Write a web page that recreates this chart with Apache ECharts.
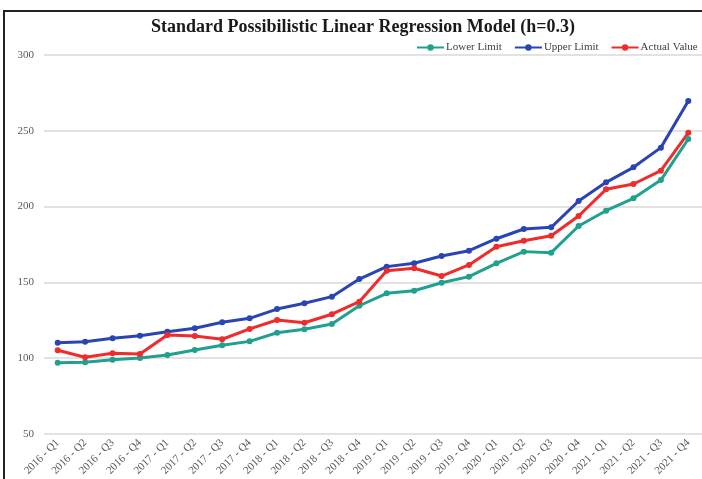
<!DOCTYPE html>
<html>
<head>
<meta charset="utf-8">
<script src="https://cdn.jsdelivr.net/npm/echarts@6/dist/echarts.min.js"></script>
<style>
  html, body { margin: 0; padding: 0; background: #ffffff; }
  #chart { width: 702px; height: 479px; }
</style>
</head>
<body>
<div id="chart"></div>
<script>
// Quarterly periods on the category axis
const quarters = [
  '2016 - Q1', '2016 - Q2', '2016 - Q3', '2016 - Q4',
  '2017 - Q1', '2017 - Q2', '2017 - Q3', '2017 - Q4',
  '2018 - Q1', '2018 - Q2', '2018 - Q3', '2018 - Q4',
  '2019 - Q1', '2019 - Q2', '2019 - Q3', '2019 - Q4',
  '2020 - Q1', '2020 - Q2', '2020 - Q3', '2020 - Q4',
  '2021 - Q1', '2021 - Q2', '2021 - Q3', '2021 - Q4'
];

// Lower bound of the possibilistic estimate
const lowerLimit = [
  97.0, 97.3, 99.0, 100.1, 102.1, 105.4, 108.5, 111.1,
  116.8, 119.1, 122.6, 134.6, 142.8, 144.5, 149.8, 153.8,
  162.6, 170.3, 169.6, 187.2, 197.3, 205.5, 217.5, 244.6
];

// Upper bound of the possibilistic estimate
const upperLimit = [
  110.2, 110.9, 113.1, 114.8, 117.5, 119.7, 123.7, 126.3,
  132.4, 136.2, 140.6, 152.2, 160.4, 162.6, 167.4, 170.9,
  178.8, 185.2, 186.3, 203.7, 216.0, 225.9, 238.9, 269.7
];

// Observed values
const actualValue = [
  105.2, 100.6, 103.2, 102.8, 115.3, 114.6, 112.5, 119.3,
  125.2, 123.4, 129.0, 137.3, 157.7, 159.3, 154.2, 161.5,
  173.5, 177.5, 180.8, 193.8, 211.4, 214.9, 223.7, 248.7
];

// Value axis range
const yMin = 50, yMax = 300, yStep = 50;

const serif = '"Liberation Serif", "Times New Roman", serif';

const chart = echarts.init(document.getElementById('chart'), null, { renderer: 'canvas' });

function lineSeries(name, data, color) {
  return {
    name: name,
    type: 'line',
    data: data,
    symbol: 'circle',
    symbolSize: 6,
    lineStyle: { color: color, width: 3 },
    itemStyle: { color: color },
    z: 3
  };
}

chart.setOption({
  animation: false,
  backgroundColor: '#ffffff',
  title: {
    text: 'Standard Possibilistic Linear Regression Model (h=0.3)',
    left: 146,
    top: 13,
    textStyle: {
      fontFamily: serif,
      fontSize: 18,
      fontWeight: 'bold',
      color: '#1a1a1a'
    }
  },
  legend: {
    left: 416,
    top: 42,
    width: 320,
    padding: 0,
    itemWidth: 27,
    itemHeight: 8,
    itemGap: 12,
    textStyle: { fontFamily: serif, fontSize: 11, color: '#404040', padding: [0, 0, 0, -3] },
    data: ['Lower Limit', 'Upper Limit', 'Actual Value']
  },
  graphic: [{
    type: 'rect',
    shape: { x: 4, y: 11, width: 900, height: 700 },
    style: { fill: null, stroke: '#222222', lineWidth: 2 },
    silent: true,
    z: 10
  }],
  grid: {
    left: 44,
    top: 55,
    width: 667,
    height: 379
  },
  xAxis: {
    type: 'category',
    data: quarters,
    boundaryGap: true,
    axisLine: { show: false },
    axisTick: { show: false },
    axisLabel: {
      rotate: 45,
      interval: 0,
      margin: 7,
      fontFamily: serif,
      fontSize: 11,
      color: '#595959'
    }
  },
  yAxis: {
    type: 'value',
    min: yMin,
    max: yMax,
    interval: yStep,
    axisLine: { show: false },
    axisTick: { show: false },
    axisLabel: {
      margin: 10,
      fontFamily: serif,
      fontSize: 11,
      color: '#595959'
    },
    splitLine: { lineStyle: { color: '#d9d9d9', width: 1.5 } }
  },
  series: [
    lineSeries('Lower Limit', lowerLimit, '#20a08f'),
    lineSeries('Upper Limit', upperLimit, '#2a45b3'),
    lineSeries('Actual Value', actualValue, '#ef2b2b')
  ]
});
</script>
</body>
</html>
